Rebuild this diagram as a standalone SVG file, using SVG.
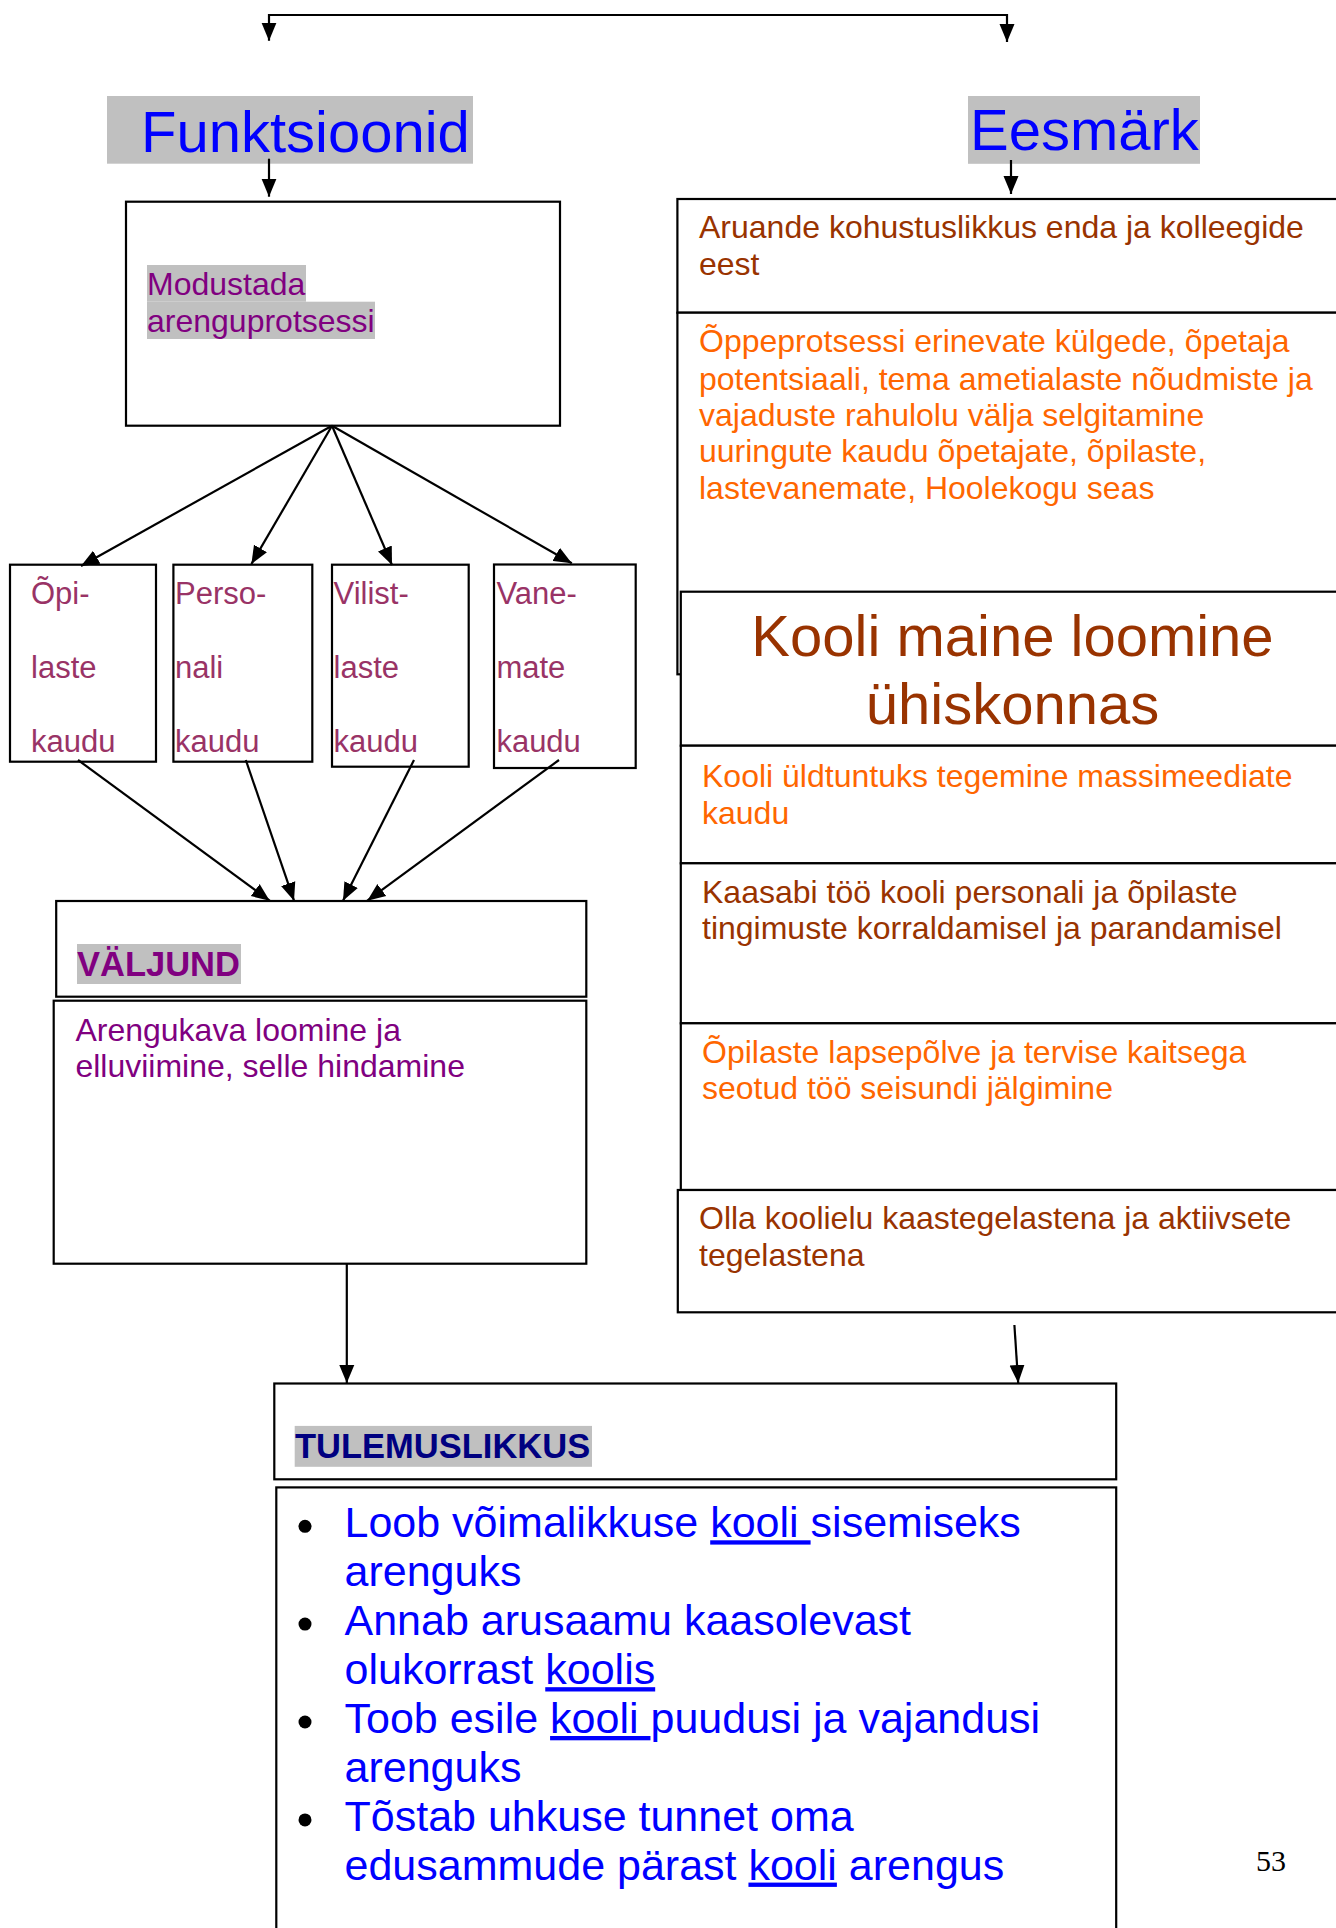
<svg xmlns="http://www.w3.org/2000/svg" width="1336" height="1928" viewBox="0 0 1336 1928">
<style>
  .box { fill: #ffffff; stroke: #000000; stroke-width: 2.2; }
  .conn { fill: none; stroke: #000000; stroke-width: 2.2; marker-end: url(#arr); }
  .hl { fill: #C0C0C0; }
  .t { font-family: "Liberation Sans", Arial, sans-serif; }
  .title { font-size: 58px; fill: #0000FF; }
  .body { font-size: 32px; }
  .brown { fill: #993300; }
  .orange { fill: #FF6600; }
  .purple { fill: #800080; }
  .rose { fill: #993366; font-size: 31px; }
  .bold { font-weight: bold; font-size: 34.5px; }
  .blue { fill: #0000FF; font-size: 43px; }
  .u { text-decoration: underline; }
</style>
<defs>
  <marker id="arr" markerUnits="userSpaceOnUse" markerWidth="18" markerHeight="16" viewBox="0 0 18 16" refX="18" refY="8" orient="auto">
    <path d="M0,0.5 L18,8 L0,15.5 Z" fill="#000000"/>
  </marker>
</defs>
<rect width="1336" height="1928" fill="#ffffff"/>

<g id="funktsioonid">
  <rect class="hl" x="107" y="96" width="366" height="67.7"/>
  <text class="t title" x="141" y="151.7">Funktsioonid</text>
</g>
<g id="eesmark">
  <rect class="hl" x="968" y="96" width="232" height="67.8"/>
  <text class="t title" x="970" y="150">Eesmärk</text>
</g>

<g id="modustada">
  <rect class="box" x="126" y="201.7" width="434" height="224"/>
  <rect class="hl" x="147" y="265" width="159" height="36.7"/>
  <rect class="hl" x="147" y="301.7" width="228" height="37.3"/>
  <text class="t body purple" x="147" y="295">Modustada</text>
  <text class="t body purple" x="147" y="331.7">arenguprotsessi</text>
</g>

<g id="opilaste">
  <rect class="box" x="10" y="564.7" width="146" height="197"/>
  <text class="t rose" x="31" y="604">Õpi-</text>
  <text class="t rose" x="31" y="678.3">laste</text>
  <text class="t rose" x="31" y="751.7">kaudu</text>
</g>
<g id="personali">
  <rect class="box" x="173.4" y="564.7" width="138.9" height="197"/>
  <text class="t rose" x="175" y="604">Perso-</text>
  <text class="t rose" x="175" y="678.3">nali</text>
  <text class="t rose" x="175" y="751.7">kaudu</text>
</g>
<g id="vilistlaste">
  <rect class="box" x="332" y="564.7" width="136.7" height="202"/>
  <text class="t rose" x="333.6" y="604">Vilist-</text>
  <text class="t rose" x="333.6" y="678.3">laste</text>
  <text class="t rose" x="333.6" y="751.7">kaudu</text>
</g>
<g id="vanemate">
  <rect class="box" x="494" y="564.5" width="141.7" height="203.5"/>
  <text class="t rose" x="496.4" y="604">Vane-</text>
  <text class="t rose" x="496.4" y="678.3">mate</text>
  <text class="t rose" x="496.4" y="751.7">kaudu</text>
</g>

<g id="valjund">
  <rect class="box" x="56.2" y="901" width="530.1" height="95.7"/>
  <rect class="hl" x="77" y="944" width="164" height="40"/>
  <text class="t bold purple" x="77" y="976">VÄLJUND</text>
</g>
<g id="arengukava">
  <rect class="box" x="53.7" y="1000.7" width="532.6" height="263"/>
  <text class="t body purple" x="75.4" y="1040.7">Arengukava loomine ja</text>
  <text class="t body purple" x="75.4" y="1077.3">elluviimine, selle hindamine</text>
</g>

<g id="aruande">
  <rect class="box" x="677.4" y="199" width="670" height="113.7"/>
  <text class="t body brown" x="699" y="238">Aruande kohustuslikkus enda ja kolleegide</text>
  <text class="t body brown" x="699" y="274.8">eest</text>
</g>
<g id="oppeprotsessi">
  <rect class="box" x="677.4" y="312.7" width="670" height="361.6"/>
  <text class="t body orange" x="699" y="352">Õppeprotsessi erinevate külgede, õpetaja</text>
  <text class="t body orange" x="699" y="389.6">potentsiaali, tema ametialaste nõudmiste ja</text>
  <text class="t body orange" x="699" y="426">vajaduste rahulolu välja selgitamine</text>
  <text class="t body orange" x="699" y="462.3">uuringute kaudu õpetajate, õpilaste,</text>
  <text class="t body orange" x="699" y="499.4">lastevanemate, Hoolekogu seas</text>
</g>
<g id="kooli-maine">
  <rect class="box" x="680.8" y="591.7" width="670" height="154"/>
  <text class="t brown" font-size="58" x="1012.5" y="656" text-anchor="middle">Kooli maine loomine</text>
  <text class="t brown" font-size="58" x="1012.5" y="724" text-anchor="middle">ühiskonnas</text>
</g>
<g id="uldtuntuks">
  <rect class="box" x="680.8" y="745.7" width="670" height="117.6"/>
  <text class="t body orange" x="702" y="786.7">Kooli üldtuntuks tegemine massimeediate</text>
  <text class="t body orange" x="702" y="824">kaudu</text>
</g>
<g id="kaasabi">
  <rect class="box" x="680.8" y="863.3" width="670" height="160"/>
  <text class="t body brown" x="702" y="903.3">Kaasabi töö kooli personali ja õpilaste</text>
  <text class="t body brown" x="702" y="939.3">tingimuste korraldamisel ja parandamisel</text>
</g>
<g id="lapsepolve">
  <rect class="box" x="680.8" y="1023.3" width="670" height="166.7"/>
  <text class="t body orange" x="702" y="1062.7">Õpilaste lapsepõlve ja tervise kaitsega</text>
  <text class="t body orange" x="702" y="1099.3">seotud töö seisundi jälgimine</text>
</g>
<g id="koolielu">
  <rect class="box" x="677.8" y="1190" width="670" height="122.3"/>
  <text class="t body brown" x="699" y="1229.3">Olla koolielu kaastegelastena ja aktiivsete</text>
  <text class="t body brown" x="699" y="1266">tegelastena</text>
</g>

<g id="tulemuslikkus">
  <rect class="box" x="274.3" y="1383.5" width="841.9" height="95.8"/>
  <rect class="hl" x="294.7" y="1425.9" width="297.3" height="40.9"/>
  <text class="t bold" fill="#000080" x="295" y="1458.3">TULEMUSLIKKUS</text>
</g>
<g id="tulemused">
  <rect class="box" x="276.3" y="1487.4" width="839.9" height="460"/>
  <circle cx="305" cy="1526.3" r="6.5" fill="#000000"/>
  <circle cx="305" cy="1624.1" r="6.5" fill="#000000"/>
  <circle cx="305" cy="1722" r="6.5" fill="#000000"/>
  <circle cx="305" cy="1819.9" r="6.5" fill="#000000"/>
  <text class="t blue" x="344.5" y="1537.3" xml:space="preserve">Loob võimalikkuse <tspan class="u">kooli </tspan>sisemiseks</text>
  <text class="t blue" x="344.5" y="1586">arenguks</text>
  <text class="t blue" x="344.5" y="1635.1">Annab arusaamu kaasolevast</text>
  <text class="t blue" x="344.5" y="1684.2" xml:space="preserve">olukorrast <tspan class="u">koolis</tspan></text>
  <text class="t blue" x="344.5" y="1733" xml:space="preserve">Toob esile <tspan class="u">kooli </tspan>puudusi ja vajandusi</text>
  <text class="t blue" x="344.5" y="1782.1">arenguks</text>
  <text class="t blue" x="344.5" y="1830.9">Tõstab uhkuse tunnet oma</text>
  <text class="t blue" x="344.5" y="1879.6" xml:space="preserve">edusammude pärast <tspan class="u">kooli</tspan> arengus</text>
</g>

<g id="page-number">
  <text font-family="'Liberation Serif', 'Times New Roman', serif" font-size="30" fill="#000000" x="1256" y="1870.7">53</text>
</g>

<g id="connectors">
  <path class="conn" d="M638,15 H269 V40.7"/>
  <path class="conn" d="M638,15 H1007 V42"/>
  <path class="conn" d="M269,158.7 V196.7"/>
  <path class="conn" d="M1011,160 V194"/>
  <path class="conn" d="M332,425.7 L81,566"/>
  <path class="conn" d="M332,425.7 L251.4,564"/>
  <path class="conn" d="M332,425.7 L392,565"/>
  <path class="conn" d="M332,425.7 L571.8,563.3"/>
  <path class="conn" d="M78,760 L269.7,900.7"/>
  <path class="conn" d="M245.8,760 L294,900.7"/>
  <path class="conn" d="M414,760 L343,900.7"/>
  <path class="conn" d="M559,760 L367.3,900.7"/>
  <path class="conn" d="M346.8,1263.7 V1383"/>
  <path class="conn" d="M1014.4,1325 L1018.2,1383"/>
</g>
</svg>
